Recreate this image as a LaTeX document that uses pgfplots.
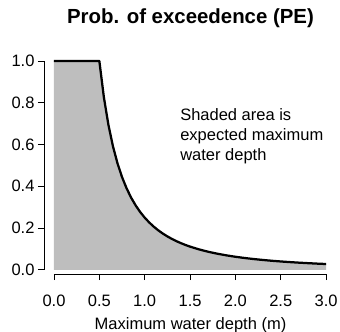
\documentclass[border=0pt]{standalone}
\usepackage{fontspec}
\setmainfont{Liberation Sans}
\usepackage{pgfplots}
\usepackage{pgfplotstable}
\pgfplotsset{compat=1.18}
\definecolor{shade}{RGB}{190,190,190}
\pgfplotstableread{
x y
0.00 1.0000
0.50 1.0000
0.55 0.8264
0.60 0.6944
0.65 0.5917
0.70 0.5102
0.75 0.4444
0.80 0.3906
0.85 0.3460
0.90 0.3086
0.95 0.2770
1.00 0.2500
1.05 0.2268
1.10 0.2066
1.15 0.1890
1.20 0.1736
1.25 0.1600
1.30 0.1479
1.35 0.1372
1.40 0.1276
1.45 0.1189
1.50 0.1111
1.60 0.0977
1.70 0.0865
1.80 0.0772
1.90 0.0693
2.00 0.0625
2.10 0.0567
2.20 0.0517
2.30 0.0473
2.40 0.0434
2.50 0.0400
2.60 0.0370
2.70 0.0343
2.80 0.0319
2.90 0.0297
3.00 0.0278
}\pecurve
\begin{document}
\begin{tikzpicture}
\begin{axis}[
  scale only axis,
  width=293bp, height=221.4bp,
  xmin=-0.11, xmax=3.12, ymin=-0.02, ymax=1.04,
  axis x line*=bottom, axis y line*=left,
  axis line style={draw=none},
  tick align=outside,
  major tick length=6bp,
  tick style={black, line width=0.75bp},
  xtick={0,0.5,1,1.5,2,2.5,3},
  ytick={0,0.2,0.4,0.6,0.8,1},
  /pgf/number format/assume math mode=true,
  /pgf/number format/fixed, /pgf/number format/fixed zerofill,
  /pgf/number format/precision=1,
  ticklabel style={font=\fontsize{16.5bp}{19.8bp}\selectfont},
  xticklabel style={yshift=-11.5bp},
  clip=false,
]
\addplot[fill=shade, draw=none] table[x=x,y=y] {\pecurve} -- (axis cs:3,0) -- (axis cs:0,0) -- cycle;
\addplot[black, line width=2.25bp, line join=round] table[x=x,y=y] {\pecurve};
\draw[black, line width=0.75bp] (axis cs:0,-0.02) -- (axis cs:3,-0.02);
\draw[black, line width=0.75bp] (axis cs:-0.11,0) -- (axis cs:-0.11,1);
\node[anchor=base, font=\bfseries\fontsize{20.4bp}{24bp}\selectfont] at (rel axis cs:0.5,1) [yshift=29.3bp] {Prob. of exceedence (PE)};
\node[anchor=base, font=\fontsize{16.5bp}{19.8bp}\selectfont] at (rel axis cs:0.5,0) [yshift=-55bp] {Maximum water depth (m)};
\node[anchor=base west, inner sep=0pt, font=\fontsize{16.5bp}{19.8bp}\selectfont] at (axis cs:1.39,0.713) {Shaded area is};
\node[anchor=base west, inner sep=0pt, font=\fontsize{16.5bp}{19.8bp}\selectfont] at (axis cs:1.39,0.713) [yshift=-20bp] {expected maximum};
\node[anchor=base west, inner sep=0pt, font=\fontsize{16.5bp}{19.8bp}\selectfont] at (axis cs:1.39,0.713) [yshift=-40bp] {water depth};
\end{axis}
\pgfresetboundingbox
\path[use as bounding box] (-44bp,-58bp) rectangle (296bp,274bp);
\end{tikzpicture}
\end{document}
